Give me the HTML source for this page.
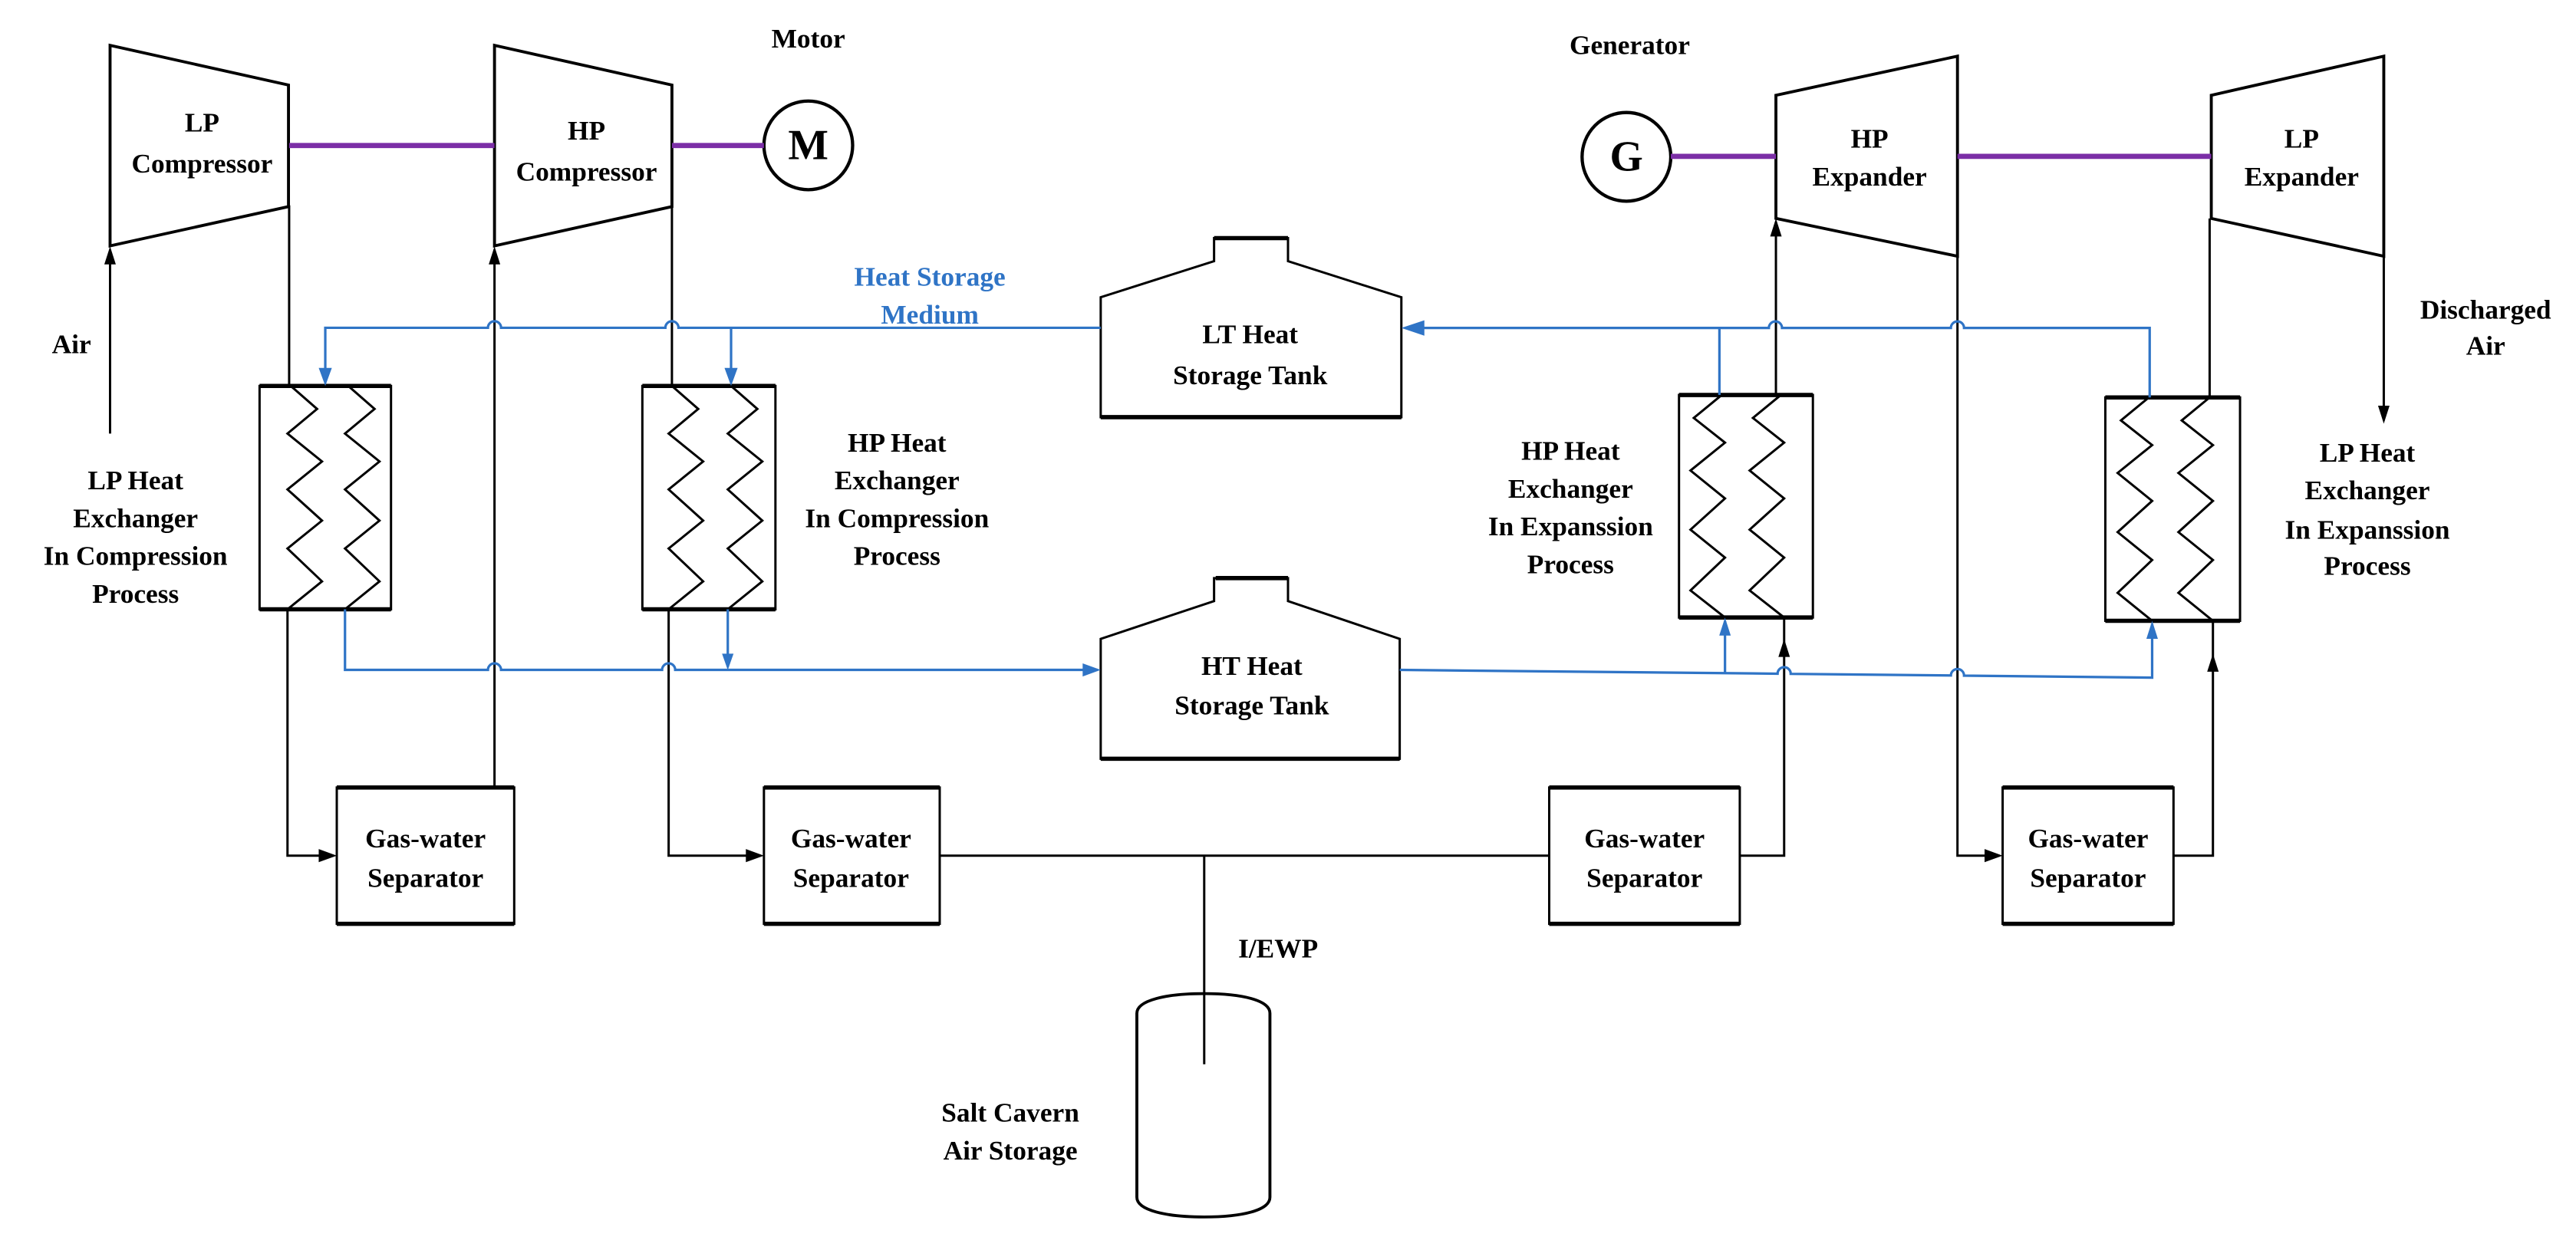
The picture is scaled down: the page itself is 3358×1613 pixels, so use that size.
<!DOCTYPE html>
<html><head><meta charset="utf-8"><style>
html,body{margin:0;padding:0;background:#fff;}
svg{display:block;}
text{font-family:"Liberation Serif",serif;font-weight:bold;font-size:16.5px;fill:#000;text-anchor:middle;}
.b{fill:#2f74c6;}
</style></head><body>
<svg width="3358" height="1613" viewBox="0 0 1568 753.2" preserveAspectRatio="none" xmlns="http://www.w3.org/2000/svg">
<g fill="none" stroke="#000" stroke-width="1.4">
<!-- compressors -->
<polygon points="67,27.6 175.6,51.8 175.6,125.8 67,149.7" stroke-width="1.8"/>
<polygon points="301,27.6 409,51.8 409,125.8 301,149.7" stroke-width="1.8"/>
<!-- expanders -->
<polygon points="1081,58 1191.5,34.2 1191.5,156 1081,133" stroke-width="1.8"/>
<polygon points="1346,58 1451,34.2 1451,156 1346,133" stroke-width="1.8"/>
<!-- motor / generator -->
<circle cx="492" cy="88.5" r="27" stroke-width="2"/>
<circle cx="990" cy="95.5" r="27" stroke-width="2"/>
<!-- heat exchangers -->
<rect x="158" y="235" width="80" height="136"/>
<rect x="391" y="235" width="81" height="136"/>
<rect x="1022" y="240.5" width="81.5" height="135.5"/>
<rect x="1281.5" y="242" width="82" height="136"/>
<g stroke-width="2.6">
<line x1="158" y1="235" x2="238" y2="235"/><line x1="158" y1="371" x2="238" y2="371"/>
<line x1="391" y1="235" x2="472" y2="235"/><line x1="391" y1="371" x2="472" y2="371"/>
<line x1="1022" y1="240.5" x2="1103.5" y2="240.5"/><line x1="1022" y1="376" x2="1103.5" y2="376"/>
<line x1="1281.5" y1="242" x2="1363.5" y2="242"/><line x1="1281.5" y1="378" x2="1363.5" y2="378"/>
</g>
<polyline points="177,235 193,249 175,264 196,281 175,298 196,317 175,334 196,354 175,371"/>
<polyline points="212,235 228,249 210,264 231,281 210,298 231,317 210,334 231,354 210,371"/>
<polyline points="409,235 425,249 407,264 428,281 407,298 428,317 407,334 428,354 407,371"/>
<polyline points="445,235 461,249 443,264 464,281 443,298 464,317 443,334 464,354 443,371"/>
<polyline points="1048,240.5 1031,254.5 1050,269.5 1029,286.5 1050,303.5 1029,322.5 1050,339.5 1029,359.5 1050,376"/>
<polyline points="1084,240.5 1067,254.5 1086,269.5 1065,286.5 1086,303.5 1065,322.5 1086,339.5 1065,359.5 1086,376"/>
<polyline points="1308,242 1291,256 1310,271 1289,288 1310,305 1289,324 1310,341 1289,361 1310,378"/>
<polyline points="1345,242 1328,256 1347,271 1326,288 1347,305 1326,324 1347,341 1326,361 1347,378"/>
<!-- tanks -->
<path d="M670,254 V181 L739,159 V145 H784 V159 L853,181 V254 Z"/>
<path d="M670,462 V389 L739,366 V352 H784 V366 L852,389 V462 Z"/>
<g stroke-width="2.6">
<line x1="670" y1="254" x2="853" y2="254"/><line x1="739" y1="145" x2="784" y2="145"/>
<line x1="670" y1="462" x2="852" y2="462"/><line x1="740" y1="352" x2="784" y2="352"/>
</g>
<!-- separators -->
<rect x="205" y="479.5" width="108" height="83"/>
<rect x="465" y="479.5" width="107" height="83"/>
<rect x="943" y="479.5" width="116" height="83"/>
<rect x="1219" y="479.5" width="104" height="83"/>
<g stroke-width="2.6">
<line x1="205" y1="479.5" x2="313" y2="479.5"/><line x1="205" y1="562.5" x2="313" y2="562.5"/>
<line x1="465" y1="479.5" x2="572" y2="479.5"/><line x1="465" y1="562.5" x2="572" y2="562.5"/>
<line x1="943" y1="479.5" x2="1059" y2="479.5"/><line x1="943" y1="562.5" x2="1059" y2="562.5"/>
<line x1="1219" y1="479.5" x2="1323" y2="479.5"/><line x1="1219" y1="562.5" x2="1323" y2="562.5"/>
</g>
<!-- cavern -->
<path d="M692,617 C692,609 710,605 733,605 C756,605 773,609 773,617 V729 C773,737 756,741 733,741 C710,741 692,737 692,729 Z" stroke-width="1.8"/>
<!-- air lines -->
<line x1="67" y1="264" x2="67" y2="152"/>
<line x1="176" y1="125" x2="176" y2="235"/>
<line x1="301" y1="479.5" x2="301" y2="152"/>
<line x1="409" y1="125" x2="409" y2="235"/>
<polyline points="175,371 175,521 203,521"/>
<polyline points="407,371 407,521 463,521"/>
<line x1="572" y1="521" x2="943" y2="521"/>
<line x1="733" y1="521" x2="733" y2="648"/>
<polyline points="1059,521 1086,521 1086,376"/>
<polyline points="1323,521 1347,521 1347,378"/>
<polyline points="1191.5,156 1191.5,521 1217,521"/>
<line x1="1081" y1="240.5" x2="1081" y2="135"/>
<line x1="1345" y1="242" x2="1345" y2="133"/>
<line x1="1451" y1="156" x2="1451" y2="256"/>
</g>
<!-- shafts -->
<g stroke="#7b2ea6" stroke-width="3.2">
<line x1="176" y1="88.6" x2="301" y2="88.6"/>
<line x1="409" y1="88.6" x2="465" y2="88.6"/>
<line x1="1017" y1="95.2" x2="1081" y2="95.2"/>
<line x1="1191.5" y1="95.2" x2="1346" y2="95.2"/>
</g>
<!-- black arrowheads -->
<g fill="#000">
<polygon points="67,150 63.5,161 70.5,161"/>
<polygon points="301,150 297.5,161 304.5,161"/>
<polygon points="1081,133 1077.5,144 1084.5,144"/>
<polygon points="1451,258 1447.5,247 1454.5,247"/>
<polygon points="1086,389 1082.5,400 1089.5,400"/>
<polygon points="1347,398 1343.5,409 1350.5,409"/>
<polygon points="205,521 194,517 194,525"/>
<polygon points="465,521 454,517 454,525"/>
<polygon points="1219,521 1208,517 1208,525"/>
</g>
<!-- blue lines -->
<g fill="none" stroke="#2f74c6" stroke-width="1.5">
<path d="M198,233 V199.6 H297 a4,4 0 0 1 8,0 H405 a4,4 0 0 1 8,0 H670"/>
<line x1="445" y1="199.6" x2="445" y2="233"/>
<path d="M866,199.7 H1076.7 a4,4 0 0 1 8,0 H1187.5 a4,4 0 0 1 8,0 H1308.5 V242"/>
<line x1="1046.6" y1="199.7" x2="1046.6" y2="240.5"/>
<path d="M210,371 V407.9 H297 a4,4 0 0 1 8,0 H403 a4,4 0 0 1 8,0 H668"/>
<line x1="443" y1="371" x2="443" y2="406"/>
<path d="M852,407.9 L1082,410.2 a4,4 0 0 1 8,0.1 L1187.5,411.3 a4,4 0 0 1 8,0.1 L1310,412.6 V380"/>
<line x1="1050" y1="409.8" x2="1050" y2="378"/>
</g>
<g fill="#2f74c6">
<polygon points="198,235 194,224 202,224"/>
<polygon points="445,235 441,224 449,224"/>
<polygon points="853,199.7 867,195 867,204.4"/>
<polygon points="670,407.9 659,403.9 659,411.9"/>
<polygon points="443,408 439.5,398 446.5,398"/>
<polygon points="1050,376 1046.5,387 1053.5,387"/>
<polygon points="1310,378 1306.5,389 1313.5,389"/>
</g>
<!-- labels -->
<text x="492" y="29">Motor</text>
<text x="992" y="33">Generator</text>
<text x="492" y="97" style="font-size:26px">M</text>
<text x="990" y="104" style="font-size:26px">G</text>
<text x="123" y="80">LP</text><text x="123" y="105">Compressor</text>
<text x="357" y="85">HP</text><text x="357" y="110">Compressor</text>
<text x="1138" y="90">HP</text><text x="1138" y="113">Expander</text>
<text x="1401" y="90">LP</text><text x="1401" y="113">Expander</text>
<text x="43.5" y="215">Air</text>
<text x="1513" y="194">Discharged</text><text x="1513" y="216">Air</text>
<text class="b" x="566" y="174">Heat Storage</text><text class="b" x="566" y="197">Medium</text>
<text x="761" y="209">LT Heat</text><text x="761" y="234">Storage Tank</text>
<text x="762" y="411">HT Heat</text><text x="762" y="435">Storage Tank</text>
<text x="82.5" y="298">LP Heat</text><text x="82.5" y="321">Exchanger</text><text x="82.5" y="344">In Compression</text><text x="82.5" y="367">Process</text>
<text x="546" y="275">HP Heat</text><text x="546" y="298">Exchanger</text><text x="546" y="321">In Compression</text><text x="546" y="344">Process</text>
<text x="956" y="280">HP Heat</text><text x="956" y="303">Exchanger</text><text x="956" y="326">In Expanssion</text><text x="956" y="349">Process</text>
<text x="1441" y="281">LP Heat</text><text x="1441" y="304">Exchanger</text><text x="1441" y="328">In Expanssion</text><text x="1441" y="350">Process</text>
<text x="259" y="516">Gas-water</text><text x="259" y="540">Separator</text>
<text x="518" y="516">Gas-water</text><text x="518" y="540">Separator</text>
<text x="1001" y="516">Gas-water</text><text x="1001" y="540">Separator</text>
<text x="1271" y="516">Gas-water</text><text x="1271" y="540">Separator</text>
<text x="778" y="583">I/EWP</text>
<text x="615" y="683">Salt Cavern</text><text x="615" y="706">Air Storage</text>
</svg>
</body></html>
